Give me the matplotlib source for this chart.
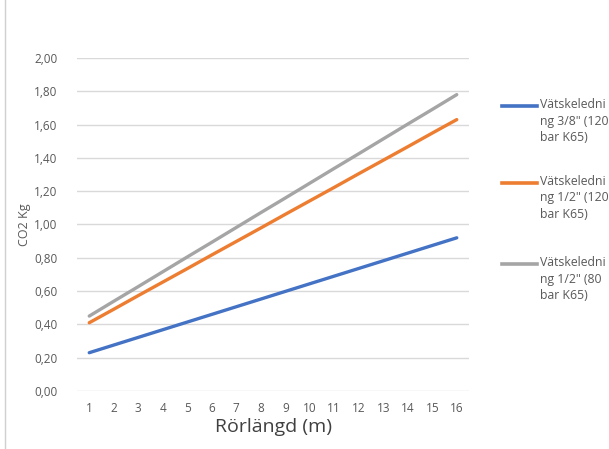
import matplotlib.pyplot as plt
from matplotlib.ticker import FuncFormatter

plt.rcParams['font.family'] = ['Open Sans', 'DejaVu Sans']

lengths = list(range(1, 17))
blue_38_120 = [0.230, 0.276, 0.322, 0.368, 0.414, 0.460, 0.506, 0.552, 0.598, 0.644, 0.690, 0.736, 0.782, 0.828, 0.874, 0.920]
orange_12_120 = [0.410, 0.491, 0.573, 0.654, 0.735, 0.817, 0.898, 0.979, 1.061, 1.142, 1.223, 1.305, 1.386, 1.467, 1.549, 1.630]
gray_12_80 = [0.450, 0.539, 0.627, 0.716, 0.805, 0.893, 0.982, 1.071, 1.159, 1.248, 1.337, 1.425, 1.514, 1.603, 1.691, 1.780]
labels = ['Vätskeledni\nng 3/8" (120\nbar K65)',
          'Vätskeledni\nng 1/2" (120\nbar K65)',
          'Vätskeledni\nng 1/2" (80\nbar K65)']
colors = ['#4472C4', '#ED7D31', '#A5A5A5']

fig = plt.figure(figsize=(6.09, 4.49), dpi=100)
ax = fig.add_axes([77 / 609, 1 - 391 / 449, (469 - 77) / 609, (391 - 58) / 449])

for vals, c in zip([blue_38_120, orange_12_120, gray_12_80], colors):
    ax.plot(lengths, vals, color=c, lw=2.4, solid_capstyle='round')

ax.set_xlim(0.5, 16.5)
ax.set_ylim(0, 2.0)
ax.set_xticks(lengths)
ax.set_yticks([i * 0.2 for i in range(11)])
ax.yaxis.set_major_formatter(FuncFormatter(lambda v, p: f'{v:.2f}'.replace('.', ',')))
ax.grid(axis='y', color='#d9d9d9', lw=1)
ax.set_axisbelow(True)
for s in ax.spines.values():
    s.set_visible(False)
ax.tick_params(length=0, labelsize=8.5, colors='#595959', pad=8)
ax.tick_params(axis='y', pad=14)
ax.set_xlabel('Rörlängd (m)', fontsize=14, color='#404040', labelpad=2)
ax.set_ylabel('CO2 Kg', fontsize=9, color='#595959', labelpad=2)

# legend drawn by hand, clipped at the right edge like the original
leg_y = [106, 183, 264]
for lab, c, y in zip(labels, colors, leg_y):
    fy = 1 - y / 449
    fig.add_artist(plt.Line2D([502 / 609, 537 / 609], [fy, fy], color=c, lw=2.6))
    fig.text(540 / 609, fy + 8 / 449, lab, fontsize=8.8, color='#595959',
             va='top', ha='left', linespacing=1.35)

fig.add_artist(plt.Line2D([5 / 609, 5 / 609], [0, 1], color='#d0d0d0', lw=1))

fig.savefig('out.png', dpi=100)
